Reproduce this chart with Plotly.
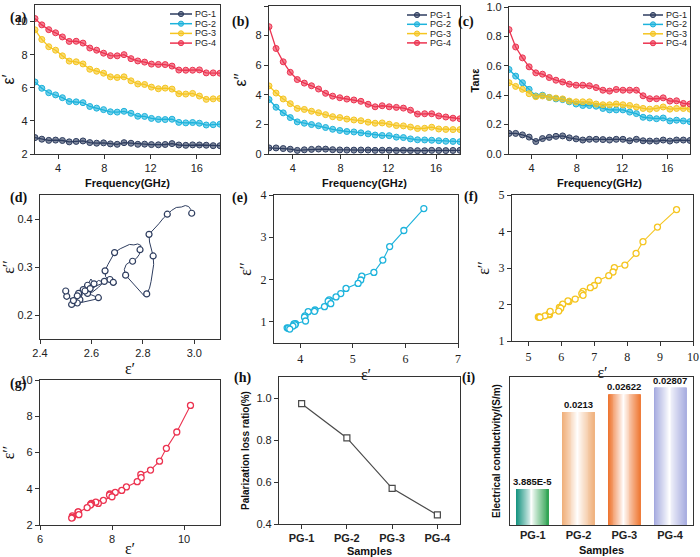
import plotly.graph_objects as go

W, H = 700, 557
SANS = "Arial, Liberation Sans, sans-serif"
SERIF = "Times New Roman, Liberation Serif, serif"

# ---------------- data ----------------
freq = [2.00, 2.59, 3.19, 3.78, 4.37, 4.96, 5.56, 6.15, 6.74, 7.33, 7.93, 8.52, 9.11, 9.70,
        10.30, 10.89, 11.48, 12.07, 12.67, 13.26, 13.85, 14.44, 15.04, 15.63, 16.22, 16.81, 17.41, 18.00]

pg1_eps1 = [2.99, 2.895, 2.824, 2.84, 2.815, 2.733, 2.76, 2.789, 2.69, 2.653, 2.672, 2.61, 2.585, 2.685,
            2.65, 2.585, 2.595, 2.568, 2.555, 2.575, 2.627, 2.545, 2.523, 2.55, 2.545, 2.53, 2.504, 2.50]
pg1_eps2 = [0.412, 0.41, 0.368, 0.323, 0.244, 0.283, 0.312, 0.336, 0.33, 0.292, 0.274, 0.265, 0.262, 0.268,
            0.27, 0.245, 0.255, 0.253, 0.232, 0.25, 0.236, 0.225, 0.222, 0.245, 0.24, 0.23, 0.239, 0.25]
pg2_eps1 = [6.35, 5.97, 5.70, 5.57, 5.40, 5.17, 5.15, 5.10, 4.87, 4.77, 4.68, 4.55, 4.53, 4.58,
            4.46, 4.28, 4.27, 4.15, 4.09, 4.08, 4.10, 3.91, 3.88, 3.90, 3.86, 3.75, 3.77, 3.80]
pg2_eps2 = [3.68, 3.16, 2.78, 2.46, 2.17, 2.08, 1.99, 1.91, 1.79, 1.67, 1.59, 1.52, 1.49, 1.43,
            1.36, 1.28, 1.25, 1.24, 1.14, 1.11, 1.02, 0.96, 0.95, 0.93, 0.90, 0.86, 0.85, 0.83]
pg3_eps1 = [9.50, 8.92, 8.48, 8.27, 7.93, 7.61, 7.57, 7.44, 7.12, 7.00, 6.88, 6.66, 6.62, 6.66,
            6.42, 6.23, 6.20, 6.04, 5.94, 5.98, 5.92, 5.64, 5.62, 5.66, 5.50, 5.30, 5.33, 5.35]
pg3_eps2 = [4.60, 4.12, 3.72, 3.40, 3.08, 3.01, 2.89, 2.79, 2.66, 2.52, 2.46, 2.36, 2.30, 2.25,
            2.15, 2.08, 2.10, 2.01, 1.92, 1.90, 1.82, 1.72, 1.74, 1.81, 1.69, 1.66, 1.65, 1.65]
pg4_eps1 = [10.18, 9.80, 9.51, 9.32, 9.07, 8.80, 8.81, 8.70, 8.40, 8.27, 8.09, 7.94, 7.93, 8.00,
            7.76, 7.62, 7.55, 7.43, 7.41, 7.40, 7.31, 7.07, 7.06, 7.06, 7.08, 6.90, 6.90, 6.88]
pg4_eps2 = [8.60, 7.13, 6.23, 5.52, 5.03, 4.79, 4.61, 4.39, 4.10, 3.91, 3.80, 3.71, 3.65, 3.56,
            3.36, 3.19, 3.26, 3.19, 3.15, 3.10, 2.96, 2.70, 2.72, 2.72, 2.57, 2.50, 2.42, 2.38]

pg1_tan = [0.14, 0.14, 0.13, 0.115, 0.085, 0.105, 0.113, 0.12, 0.123, 0.11, 0.103, 0.095, 0.10, 0.10,
           0.098, 0.095, 0.10, 0.10, 0.09, 0.10, 0.09, 0.088, 0.088, 0.095, 0.088, 0.095, 0.095, 0.092]
pg2_tan = [0.575, 0.53, 0.485, 0.44, 0.395, 0.40, 0.385, 0.375, 0.37, 0.355, 0.34, 0.33, 0.33, 0.325,
           0.31, 0.30, 0.30, 0.30, 0.285, 0.275, 0.25, 0.245, 0.24, 0.245, 0.225, 0.23, 0.225, 0.22]
pg3_tan = [0.485, 0.46, 0.44, 0.41, 0.39, 0.395, 0.385, 0.38, 0.375, 0.36, 0.355, 0.355, 0.355, 0.34,
           0.335, 0.335, 0.34, 0.335, 0.33, 0.32, 0.31, 0.305, 0.31, 0.32, 0.305, 0.31, 0.31, 0.305]
pg4_tan = [0.846, 0.728, 0.654, 0.593, 0.552, 0.543, 0.52, 0.502, 0.49, 0.475, 0.468, 0.468, 0.464, 0.452,
           0.434, 0.428, 0.439, 0.434, 0.434, 0.434, 0.396, 0.376, 0.376, 0.382, 0.36, 0.362, 0.344, 0.34]

# dense Cole-Cole curve of PG-1
pg1_cole_e1 = [2.990, 2.986, 2.978, 2.965, 2.950, 2.930, 2.912, 2.895, 2.880, 2.862, 2.845, 2.824, 2.826, 2.834,
               2.840, 2.842, 2.838, 2.832, 2.826, 2.815, 2.805, 2.795, 2.782, 2.770, 2.755, 2.742, 2.733, 2.728,
               2.735, 2.748, 2.760, 2.775, 2.786, 2.789, 2.792, 2.780, 2.765, 2.748, 2.730, 2.712, 2.690, 2.676,
               2.664, 2.653, 2.655, 2.668, 2.690, 2.698, 2.672, 2.650, 2.628, 2.610, 2.598, 2.585, 2.600, 2.625,
               2.660, 2.685, 2.670, 2.650, 2.628, 2.605, 2.585, 2.590, 2.595, 2.580, 2.568, 2.560, 2.555, 2.565,
               2.575, 2.600, 2.627, 2.610, 2.580, 2.560, 2.545, 2.535, 2.523, 2.535, 2.550, 2.548, 2.545, 2.538,
               2.530, 2.515, 2.504, 2.498, 2.500]
pg1_cole_e2 = [0.410, 0.420, 0.426, 0.428, 0.425, 0.424, 0.418, 0.410, 0.402, 0.390, 0.380, 0.368, 0.352, 0.338,
               0.323, 0.305, 0.288, 0.270, 0.256, 0.244, 0.240, 0.246, 0.252, 0.260, 0.268, 0.276, 0.283, 0.295,
               0.305, 0.310, 0.312, 0.318, 0.326, 0.336, 0.345, 0.348, 0.346, 0.347, 0.343, 0.338, 0.330, 0.318,
               0.305, 0.292, 0.280, 0.272, 0.270, 0.266, 0.274, 0.268, 0.272, 0.265, 0.275, 0.262, 0.255, 0.262,
               0.270, 0.268, 0.272, 0.270, 0.258, 0.248, 0.245, 0.253, 0.255, 0.258, 0.253, 0.242, 0.232, 0.243,
               0.250, 0.242, 0.236, 0.232, 0.228, 0.226, 0.225, 0.220, 0.222, 0.235, 0.245, 0.242, 0.240, 0.234,
               0.230, 0.236, 0.239, 0.246, 0.250]

samples = ["PG-1", "PG-2", "PG-3", "PG-4"]
loss_ratio = [0.973, 0.81, 0.57, 0.443]
conductivity = [3.885e-5, 0.0213, 0.02622, 0.02807]
conductivity_labels = ["3.885E-5", "0.0213", "0.02622", "0.02807"]

# ---------------- styles ----------------
colors = ["#2e3d5f", "#1db3dc", "#f5c520", "#ec3350"]
bar_edges = [("#13927e", "#2ea352"), ("#f0ae78", "#f0b27f"), ("#ee722c", "#ef7a36"), ("#a0a6dd", "#a8ade0")]

def rgba(hexc, a):
    h = hexc.lstrip("#")
    return "rgba(%d,%d,%d,%.2f)" % (int(h[0:2], 16), int(h[2:4], 16), int(h[4:6], 16), a)

def mix_white(hexc, t):
    h = hexc.lstrip("#")
    r, g, b = int(h[0:2], 16), int(h[2:4], 16), int(h[4:6], 16)
    return "rgb(%d,%d,%d)" % (round(255 + (r - 255) * t), round(255 + (g - 255) * t), round(255 + (b - 255) * t))

# panel plot boxes in pixels: (x0, x1, y0_top, y1_bottom)
boxes = [(35, 220, 5, 154), (269, 460, 6, 154), (509, 690, 7, 154),
         (40, 220, 195, 339), (274, 458, 195, 343), (512, 693, 195, 341),
         (40, 220, 380, 525), (279, 460, 377, 524), (510, 693, 377, 525)]
labels = ["(a)", "(b)", "(c)", "(d)", "(e)", "(f)", "(g)", "(h)", "(i)"]
label_pos = [(9, 9), (240, 13), (475, 13), (9, 198), (240, 198), (479, 197), (9, 393), (242, 387), (477, 387)]

fig = go.Figure()

def ax(k):
    return ("x" if k == 1 else "x%d" % k), ("y" if k == 1 else "y%d" % k)

series_e1 = [pg1_eps1, pg2_eps1, pg3_eps1, pg4_eps1]
series_e2 = [pg1_eps2, pg2_eps2, pg3_eps2, pg4_eps2]
series_tan = [pg1_tan, pg2_tan, pg3_tan, pg4_tan]

# (a), (b), (c)
for k, data in [(1, series_e1), (2, series_e2), (3, series_tan)]:
    xa, ya = ax(k)
    for i, name in enumerate(samples):
        fig.add_trace(go.Scatter(x=freq, y=data[i], mode="lines+markers", name=name, xaxis=xa, yaxis=ya,
                                 line=dict(color=colors[i], width=1.3),
                                 marker=dict(symbol="circle", size=6, color=rgba(colors[i], 0.6),
                                             line=dict(color=colors[i], width=1)),
                                 showlegend=False))

# (d)
xa, ya = ax(4)
fig.add_trace(go.Scatter(x=pg1_cole_e1, y=pg1_cole_e2, mode="lines", xaxis=xa, yaxis=ya,
                         line=dict(color=colors[0], width=1), showlegend=False, name="PG-1"))
fig.add_trace(go.Scatter(x=pg1_eps1, y=pg1_eps2, mode="markers", xaxis=xa, yaxis=ya,
                         marker=dict(symbol="circle", size=6, color="white", line=dict(color=colors[0], width=1.2)),
                         showlegend=False, name="PG-1"))
# (e), (f), (g)
for k, i in [(5, 1), (6, 2), (7, 3)]:
    xa, ya = ax(k)
    fig.add_trace(go.Scatter(x=series_e1[i], y=series_e2[i], mode="lines+markers", xaxis=xa, yaxis=ya,
                             line=dict(color=colors[i], width=1.1),
                             marker=dict(symbol="circle", size=6, color="white", line=dict(color=colors[i], width=1.3)),
                             showlegend=False, name=samples[i]))
# (h)
xa, ya = ax(8)
fig.add_trace(go.Scatter(x=samples, y=loss_ratio, mode="lines+markers", xaxis=xa, yaxis=ya,
                         line=dict(color="#4a4a4a", width=1.2),
                         marker=dict(symbol="square", size=6, color="white", line=dict(color="#4a4a4a", width=1.2)),
                         showlegend=False, name="loss ratio"))
# (i) gradient bars
xa, ya = ax(9)
ymin, ymax = -0.0099, 0.031
bw = 0.7
ns = 34
sx, sy, sc = [], [], []
for i, v in enumerate(conductivity):
    for s in range(ns):
        u = (s + 0.5) / ns
        if u < 0.48:
            t = (0.48 - u) / 0.48
            edge = bar_edges[i][0]
        else:
            t = (u - 0.48) / 0.52
            edge = bar_edges[i][1]
        sx.append(i - bw / 2 + u * bw)
        sy.append(v - ymin)
        sc.append(mix_white(edge, min(1.0, t ** 0.9)))
fig.add_trace(go.Bar(x=sx, y=sy, base=ymin, width=bw / ns * 1.08, xaxis=xa, yaxis=ya,
                     marker=dict(color=sc, line=dict(width=0)), showlegend=False, hoverinfo="skip"))
fig.add_trace(go.Bar(x=list(range(len(samples))), y=[v - ymin for v in conductivity], base=ymin, width=bw,
                     xaxis=xa, yaxis=ya, marker=dict(color="rgba(0,0,0,0)", line=dict(width=0)),
                     showlegend=False, name="conductivity", hovertext=conductivity_labels, hoverinfo="text"))
for i, (v, lab) in enumerate(zip(conductivity, conductivity_labels)):
    fig.add_annotation(x=i, y=v, xref=xa, yref=ya, text="<b>%s</b>" % lab, showarrow=False,
                       yanchor="bottom", yshift=0, font=dict(family=SANS, size=9.5, color="#111"))

# ---------------- axes ----------------
common = dict(showline=True, mirror=True, linecolor="#333", linewidth=1.2, ticks="outside", ticklen=4,
              tickcolor="#333", showgrid=False, zeroline=False, automargin=False,
              tickfont=dict(family=SANS, size=11, color="#222"))

def tfont(size=11, bold=False, fam=SANS):
    return dict(family=fam, size=size, color="#111", weight="bold" if bold else "normal")

x_specs = [
    dict(range=[2, 18], tickvals=[4, 8, 12, 16], title=dict(text="Frequency(GHz)", font=tfont(11, True), standoff=6)),
    dict(range=[2, 18], tickvals=[4, 8, 12, 16], title=dict(text="Frequency(GHz)", font=tfont(11, True), standoff=6)),
    dict(range=[2, 18], tickvals=[4, 8, 12, 16], title=dict(text="Frequency(GHz)", font=tfont(11, True), standoff=6)),
    dict(range=[2.4, 3.1], tickvals=[2.4, 2.6, 2.8, 3.0], tickformat=".1f", title=dict(text="ε′", font=tfont(16, False, SERIF), standoff=4)),
    dict(range=[3.5, 7], tickvals=[4, 5, 6, 7], tickfont=dict(family=SERIF, size=12, color="#222"), title=dict(text="ε′", font=tfont(16, False, SERIF), standoff=4)),
    dict(range=[4.5, 10], tickvals=[5, 6, 7, 8, 9, 10], tickfont=dict(family=SERIF, size=12, color="#222"), title=dict(text="ε′", font=tfont(16, False, SERIF), standoff=4)),
    dict(range=[6, 11], tickvals=[6, 8, 10], title=dict(text="ε′", font=tfont(16, False, SERIF), standoff=4)),
    dict(range=[-0.5, 3.5], type="category", tickfont=dict(family=SANS, size=11, color="#222", weight="bold"),
         title=dict(text="Samples", font=tfont(11, True), standoff=6)),
    dict(range=[-0.5, 3.5], tickvals=[0, 1, 2, 3], ticktext=samples, ticks="",
         tickfont=dict(family=SANS, size=11, color="#222", weight="bold"),
         title=dict(text="Samples", font=tfont(11, True), standoff=6)),
]
y_specs = [
    dict(range=[2, 11], tickvals=[2, 4, 6, 8, 10], title=dict(text="ε′", font=tfont(16), standoff=4)),
    dict(range=[0, 10], tickvals=[0, 2, 4, 6, 8, 10], title=dict(text="ε′′", font=tfont(16), standoff=4)),
    dict(range=[0, 1], tickvals=[0, 0.2, 0.4, 0.6, 0.8, 1.0], tickformat=".1f", title=dict(text="Tanε", font=tfont(11, True), standoff=4)),
    dict(range=[0.15, 0.45], tickvals=[0.2, 0.3, 0.4], tickformat=".1f", title=dict(text="ε′′", font=tfont(16, False, SERIF), standoff=4)),
    dict(range=[0.5, 4], tickvals=[1, 2, 3, 4], tickfont=dict(family=SERIF, size=12, color="#222"), title=dict(text="ε′′", font=tfont(16, False, SERIF), standoff=4)),
    dict(range=[1, 5], tickvals=[1, 2, 3, 4, 5], tickfont=dict(family=SERIF, size=12, color="#222"), title=dict(text="ε′′", font=tfont(16, False, SERIF), standoff=4)),
    dict(range=[2, 10], tickvals=[2, 4, 6, 8, 10], title=dict(text="ε′′", font=tfont(16, False, SERIF), standoff=4)),
    dict(range=[0.4, 1.1], tickvals=[0.4, 0.6, 0.8, 1.0], tickformat=".1f", title=dict(text="Palarization loss ratio(%)", font=tfont(10, True), standoff=4)),
    dict(range=[ymin, ymax], showticklabels=False, ticks="", title=dict(text="Electrical conductivity/(S/m)", font=tfont(10, True), standoff=6)),
]

layout = dict(width=W, height=H, margin=dict(l=0, r=0, t=0, b=0, autoexpand=False), paper_bgcolor="white", plot_bgcolor="white",
              barmode="overlay", showlegend=False, font=dict(family=SANS, color="#222"))
for k in range(1, 10):
    x0, x1, y0, y1 = boxes[k - 1]
    xs = dict(common); xs.update(x_specs[k - 1])
    ys = dict(common); ys.update(y_specs[k - 1])
    xs["domain"] = [x0 / W, x1 / W]
    ys["domain"] = [1 - y1 / H, 1 - y0 / H]
    xs["anchor"] = "y" if k == 1 else "y%d" % k
    ys["anchor"] = "x" if k == 1 else "x%d" % k
    layout["xaxis" if k == 1 else "xaxis%d" % k] = xs
    layout["yaxis" if k == 1 else "yaxis%d" % k] = ys
fig.update_layout(**layout)

# panel labels
for lab, (lx, ly) in zip(labels, label_pos):
    fig.add_annotation(x=lx / W, y=1 - ly / H, xref="paper", yref="paper", text="<b>%s</b>" % lab,
                       showarrow=False, borderpad=0, font=dict(family=SERIF, size=14, color="#111"))

# legends for (a), (b), (c) : (line x0, line x1, first row y, row step) in px
legend_px = [(170, 192, 14, 9.7), (407, 427, 15, 9.3), (643, 663, 15, 9.4)]
for (lx0, lx1, ly0, step) in legend_px:
    for i, name in enumerate(samples):
        yy = 1 - (ly0 + i * step) / H
        fig.add_shape(type="line", xref="paper", yref="paper", x0=lx0 / W, x1=lx1 / W, y0=yy, y1=yy,
                      line=dict(color=colors[i], width=1.5))
        cx = (lx0 + lx1) / 2
        fig.add_shape(type="circle", xref="paper", yref="paper", x0=(cx - 2.6) / W, x1=(cx + 2.6) / W,
                      y0=yy - 2.6 / H, y1=yy + 2.6 / H, fillcolor=rgba(colors[i], 0.6),
                      line=dict(color=colors[i], width=1))
        fig.add_annotation(x=(lx1 + 2) / W, y=yy, xref="paper", yref="paper", text=name, showarrow=False,
                           xanchor="left", yanchor="middle", borderpad=0,
                           font=dict(family=SANS, size=9, color="#222"))

fig.write_html("out.html", config={"displayModeBar": False},
               post_script="document.body.style.margin='0';document.body.style.padding='0';"
                           "document.body.style.overflow='hidden';")
